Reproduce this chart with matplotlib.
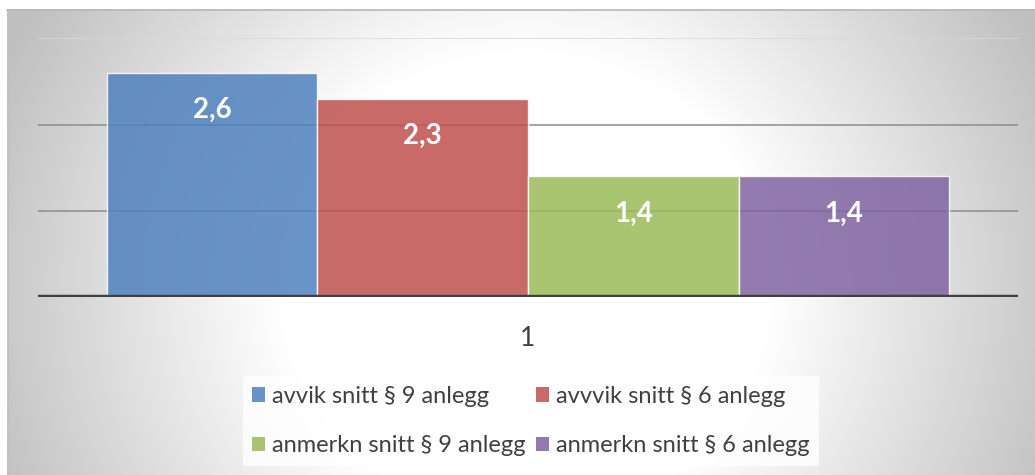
import numpy as np
import matplotlib
matplotlib.use("Agg")
import matplotlib.pyplot as plt

plt.rcParams['font.family'] = ['Lato', 'DejaVu Sans']

# ---- data ----
categories = ["1"]
series_names = ["avvik snitt § 9 anlegg", "avvvik snitt § 6 anlegg",
                "anmerkn snitt § 9 anlegg", "anmerkn snitt § 6 anlegg"]
series_values = [2.6, 2.3, 1.4, 1.4]
series_colors = ["#4F81BD", "#C0504D", "#9BBB59", "#8064A2"]
y_ticks = [0, 1, 2, 3]

W, H = 1035, 475
fig = plt.figure(figsize=(W / 100, H / 100), dpi=100)
fig.patch.set_facecolor("white")

# ---- background gradient (chart area) ----
x0, y0 = 7, 9
bg = fig.add_axes([x0 / W, 0, 1 - x0 / W, (H - y0) / H], zorder=0)
gw, gh = W - x0, H - y0
xx, yy = np.meshgrid(np.arange(gw) + x0, np.arange(gh) + y0)
cx, cy = 525, 285
r = np.sqrt(((xx - cx) / 1.0) ** 2 + ((yy - cy) / 0.95) ** 2)
t = np.clip((r - 245) / (570 - 245), 0, 1)
val = 255 - t * (255 - 192)
img = np.dstack([val, val, val]) / 255.0
bg.imshow(img, aspect="auto", interpolation="bilinear")
bg.set_axis_off()
fig.add_artist(plt.Line2D([x0 / W, 1], [1 - (y0 + 0.5) / H] * 2,
                          transform=fig.transFigure, color="#b8b8b8", lw=1.2, zorder=1))
fig.add_artist(plt.Line2D([(x0 + 0.5) / W] * 2, [0, 1 - y0 / H],
                          transform=fig.transFigure, color="#c0c0c0", lw=1.0, zorder=1))

# ---- main axes ----
left_px, right_px = 38, 1018
y0_px, y3_px = 297.3, 38.4
ax = fig.add_axes([left_px / W, (H - y0_px) / H, (right_px - left_px) / W,
                   (y0_px - y3_px) / H], zorder=2)
ax.set_facecolor("none")
ax.set_xlim(-0.5, 0.5)
ax.set_ylim(0, 3)

for yv in y_ticks[1:]:
    col = "#8c8c8c" if yv < 3 else "#d8d8d8"
    ax.axhline(yv, color=col, lw=1.1, zorder=1)

n = len(series_values)
bw = 0.215
cat_x = np.arange(len(categories))
bars = []
for i, (name, v, c) in enumerate(zip(series_names, series_values, series_colors)):
    xpos = cat_x + (i - (n - 1) / 2) * bw
    b = ax.bar(xpos, [v], width=bw, color=c, alpha=0.85, edgecolor=(1, 1, 1, 0.55),
               linewidth=1.0, label=name, zorder=2)
    bars.append(b)
    ax.annotate(f"{v:.1f}".replace(".", ","), xy=(xpos[0], v), xytext=(0, -32.4),
                textcoords="offset points", ha="center", va="baseline",
                color="white", fontsize=20, fontweight="bold", zorder=4)

ax.axhline(0, color="#404040", lw=3.2, zorder=3, solid_capstyle="butt")

for s in ax.spines.values():
    s.set_visible(False)
ax.set_yticks([])
ax.set_xticks(cat_x, categories)
ax.tick_params(axis="x", length=0, pad=21, labelsize=19, labelcolor="#404040")

# legend: row-wise order (matplotlib fills columns first)
ncol = 2
order = [0, 2, 1, 3]
leg = fig.legend([bars[k] for k in order], [series_names[k] for k in order],
                 loc="center", bbox_to_anchor=(531 / W, 1 - 421 / H),
                 ncol=ncol, fontsize=17, frameon=True, fancybox=False,
                 handlelength=0.55, handleheight=0.55, handletextpad=0.3,
                 columnspacing=0.45, labelspacing=1.2, borderpad=0.4,
                 borderaxespad=0)
leg.get_frame().set_facecolor((1, 1, 1, 0.25))
leg.get_frame().set_edgecolor("none")
for txt in leg.get_texts():
    txt.set_color("#404040")
for h in leg.legend_handles:
    h.set_alpha(0.85)
    h.set_edgecolor("none")

fig.savefig("out.png", dpi=100)
